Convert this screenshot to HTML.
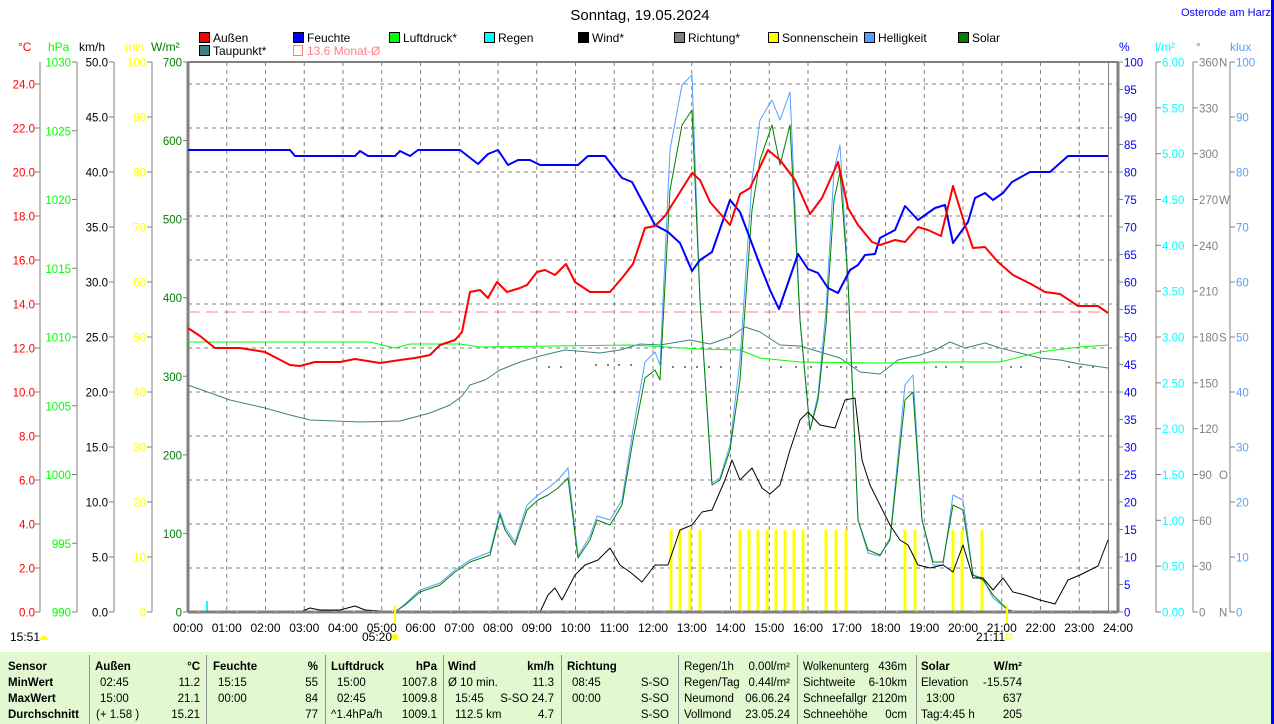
<!DOCTYPE html>
<html><head><meta charset="utf-8">
<style>
html,body{margin:0;padding:0;background:#fff;width:1274px;height:724px;overflow:hidden}
svg{display:block;font-family:"Liberation Sans",sans-serif}
</style></head><body>
<svg id="s" width="1274" height="724" viewBox="0 0 1274 724" xmlns="http://www.w3.org/2000/svg">
<rect x="0" y="0" width="1274" height="724" fill="#fff"/>
<rect x="1271" y="0" width="3" height="724" fill="#0000ff"/>
<text x="640" y="20" font-size="15" text-anchor="middle" fill="#000">Sonntag, 19.05.2024</text>
<text x="1181" y="16" font-size="11" fill="#0000ff">Osterode am Harz</text>
<g id="g"></g>
<rect x="0" y="652" width="1271" height="72" fill="#e2f8d0"/>
<g stroke="#909090" stroke-width="1">
<line x1="89.5" y1="655" x2="89.5" y2="724"/><line x1="206.5" y1="655" x2="206.5" y2="724"/>
<line x1="325.5" y1="655" x2="325.5" y2="724"/><line x1="443.5" y1="655" x2="443.5" y2="724"/>
<line x1="561.5" y1="655" x2="561.5" y2="724"/><line x1="678.5" y1="655" x2="678.5" y2="724"/>
<line x1="797.5" y1="655" x2="797.5" y2="724"/><line x1="916.5" y1="655" x2="916.5" y2="724"/>
</g>
<g font-size="11.5" fill="#000">
<g font-weight="bold"><text x="8" y="670">Sensor</text><text x="8" y="686">MinWert</text><text x="8" y="702">MaxWert</text><text x="8" y="718">Durchschnitt</text>
<text x="95" y="670">Außen</text><text x="200" y="670" text-anchor="end">°C</text>
<text x="213" y="670">Feuchte</text><text x="318" y="670" text-anchor="end">%</text>
<text x="331" y="670">Luftdruck</text><text x="437" y="670" text-anchor="end">hPa</text>
<text x="448" y="670">Wind</text><text x="554" y="670" text-anchor="end">km/h</text>
<text x="567" y="670">Richtung</text>
<text x="921" y="670">Solar</text><text x="1022" y="670" text-anchor="end">W/m²</text></g>
<text x="100" y="686">02:45</text><text x="200" y="686" text-anchor="end">11.2</text>
<text x="100" y="702">15:00</text><text x="200" y="702" text-anchor="end">21.1</text>
<text x="96" y="718">(+ 1.58 )</text><text x="200" y="718" text-anchor="end">15.21</text>
<text x="218" y="686">15:15</text><text x="318" y="686" text-anchor="end">55</text>
<text x="218" y="702">00:00</text><text x="318" y="702" text-anchor="end">84</text>
<text x="318" y="718" text-anchor="end">77</text>
<text x="337" y="686">15:00</text><text x="437" y="686" text-anchor="end">1007.8</text>
<text x="337" y="702">02:45</text><text x="437" y="702" text-anchor="end">1009.8</text>
<text x="331" y="718">^1.4hPa/h</text><text x="437" y="718" text-anchor="end">1009.1</text>
<text x="448" y="686">Ø 10 min.</text><text x="554" y="686" text-anchor="end">11.3</text>
<text x="455" y="702">15:45</text><text x="554" y="702" text-anchor="end">S-SO 24.7</text>
<text x="455" y="718">112.5 km</text><text x="554" y="718" text-anchor="end">4.7</text>
<text x="572" y="686">08:45</text><text x="572" y="702">00:00</text>
<text x="669" y="686" text-anchor="end">S-SO</text><text x="669" y="702" text-anchor="end">S-SO</text><text x="669" y="718" text-anchor="end">S-SO</text>
<text x="684" y="670">Regen/1h</text><text x="790" y="670" text-anchor="end">0.00l/m²</text>
<text x="684" y="686">Regen/Tag</text><text x="790" y="686" text-anchor="end">0.44l/m²</text>
<text x="684" y="702">Neumond</text><text x="790" y="702" text-anchor="end">06.06.24</text>
<text x="684" y="718">Vollmond</text><text x="790" y="718" text-anchor="end">23.05.24</text>
<text x="803" y="670" textLength="66" lengthAdjust="spacingAndGlyphs">Wolkenunterg</text><text x="907" y="670" text-anchor="end">436m</text>
<text x="803" y="686">Sichtweite</text><text x="907" y="686" text-anchor="end">6-10km</text>
<text x="803" y="702" textLength="64" lengthAdjust="spacingAndGlyphs">Schneefallgr</text><text x="907" y="702" text-anchor="end">2120m</text>
<text x="803" y="718">Schneehöhe</text><text x="907" y="718" text-anchor="end">0cm</text>
<text x="921" y="686">Elevation</text><text x="1022" y="686" text-anchor="end">-15.574</text>
<text x="926" y="702">13:00</text><text x="1022" y="702" text-anchor="end">637</text>
<text x="921" y="718">Tag:4:45 h</text><text x="1022" y="718" text-anchor="end">205</text>
</g>
</svg>
<script>
var NS="http://www.w3.org/2000/svg",g=document.getElementById("g");
function el(t,a,txt){var e=document.createElementNS(NS,t);for(var k in a)e.setAttribute(k,a[k]);if(txt!=null)e.textContent=txt;g.appendChild(e);return e;}
function txt(x,y,s,c,anc,fs){return el("text",{x:x,y:y,fill:c,"font-size":fs||12,"text-anchor":anc||"start"},s);}
var L=188,R=1118,T=62,B=612,HW=(R-L)/24,TF=11.5;
for(var h=1;h<24;h++){var x=L+h*HW;el("line",{x1:x,y1:T,x2:x,y2:B,stroke:"#808080","stroke-dasharray":"4,4"});}
for(var k=1;k<=12;k++){var y=B-k*44;el("line",{x1:L,y1:y,x2:R,y2:y,stroke:"#808080","stroke-dasharray":"4,4"});}
var leg=[[199,38,"#ff0000","Außen"],[293,38,"#0000ff","Feuchte"],[389,38,"#00ff00","Luftdruck*"],[484,38,"#00ffff","Regen"],[578,38,"#000000","Wind*"],[674,38,"#808080","Richtung*"],[768,38,"#ffff00","Sonnenschein"],[864,38,"#55a0ff","Helligkeit"],[958,38,"#008000","Solar"],[199,51,"#408080","Taupunkt*"]];
leg.forEach(function(l){el("rect",{x:l[0]+.5,y:l[1]-5.5,width:10,height:10,fill:l[2],stroke:"#000"});txt(l[0]+14,l[1]+4,l[3],"#000","start",12);});
el("rect",{x:293.5,y:45.5,width:9,height:10,fill:"none",stroke:"#ff8080"});txt(307,55,"13.6 Monat-Ø","#ff8080","start",12);
[[18,"°C","#ff0000"],[48,"hPa","#00ff00"],[79,"km/h","#000"],[125,"min","#ffff00"],[151,"W/m²","#008000"],[1119,"%","#0000ff"],[1155,"l/m²","#00ffff"],[1196,"°","#808080"],[1230,"klux","#55a0ff"]].forEach(function(u){txt(u[0],51,u[1],u[2]);});
function axis(lx,col,n,fmt,lab,right){
 el("line",{x1:lx,y1:T,x2:lx,y2:B,stroke:"#808080"});
 for(var i=0;i<=n;i++){var y=B-i*(B-T)/n;var s=fmt(i);if(s==null)continue;
  if(!right){el("line",{x1:lx-5,y1:y,x2:lx,y2:y,stroke:"#808080"});txt(lx-6,y+4.5,s,col,"end",TF);}
  else{el("line",{x1:lx,y1:y,x2:lx+5,y2:y,stroke:"#808080"});txt(lx+6,y+4.5,s,col,"start",TF);}}
}
el("line",{x1:40,y1:T,x2:40,y2:B,stroke:"#808080"});
for(var i=0;i<=12;i++){var y=B-i*44;el("line",{x1:35,y1:y,x2:40,y2:y,stroke:"#808080"});txt(35,y+4.5,(i*2).toFixed(1),"#ff0000","end",TF);}
axis(77,"#00ff00",8,function(i){return ""+(990+i*5);});
axis(114,"#000",10,function(i){return (i*5).toFixed(1);});
axis(152,"#ffff00",10,function(i){return ""+(i*10);});
axis(188,"#008000",7,function(i){return ""+(i*100);});
axis(1118,"#0000ff",20,function(i){return ""+(i*5);},0,true);
axis(1156,"#00ffff",12,function(i){return (i*0.5).toFixed(2);},0,true);
var dirs={0:"N",3:"O",6:"S",9:"W",12:"N"};
axis(1193,"#808080",12,function(i){return ""+(i*30);},0,true);
for(var d in dirs){txt(1219,B-d*(B-T)/12+4.5,dirs[d],"#808080","start",TF);}
axis(1230,"#55a0ff",10,function(i){return ""+(i*10);},0,true);
el("line",{x1:L,y1:T,x2:R,y2:T,stroke:"#808080","stroke-width":2});
el("line",{x1:L,y1:T,x2:L,y2:B,stroke:"#808080","stroke-width":3});
el("line",{x1:R,y1:T,x2:R,y2:B,stroke:"#808080","stroke-width":3});
el("line",{x1:1108.5,y1:T,x2:1108.5,y2:B,stroke:"#808080"});
for(var h=0;h<=24;h++){var x=L+h*HW;txt(x,632,(h<10?"0":"")+h+":00","#000","middle",12);}
function pl(pts,col,w){el("polyline",{points:pts,fill:"none",stroke:col,"stroke-width":w||1,"stroke-linejoin":"round"});}
el("line",{x1:L,y1:312,x2:1108,y2:312,stroke:"#ff8080","stroke-dasharray":"12,6"});
[671,680,690,700,740,749,758,767,776,785,794,803,826,836,846,905,915,953,962,982].forEach(function(x){el("rect",{x:x-1.5,y:530,width:3,height:82,fill:"#ffff00"});});
el("rect",{x:206,y:601,width:2,height:11,fill:"#00ffff"});
[548,560,672,684,696,708,720,780,795,810,826,840,855,935,945,960,1010,1020,1068,1080,1092].forEach(function(x){el("rect",{x:x,y:366,width:2,height:2,fill:"#808080"});});
[595,607,618,630].forEach(function(x){el("rect",{x:x,y:364,width:2,height:2,fill:"#808080"});});
pl("188,385 230,400 265,408 290,415 310,420 360,422 400,421 430,413 450,405 462,396 470,385 485,380 500,370 520,362 540,356 565,350 600,353 620,350 640,344 660,345 690,340 710,344 730,337 745,327 760,332 780,345 800,346 820,352 840,358 860,372 880,374 898,360 920,355 935,350 950,342 965,348 985,343 1000,348 1020,353 1040,358 1060,360 1080,364 1108,368","#408080",1);
pl("188,342 370,342 395,348 410,344 460,344 480,347 630,345 700,349 740,350 760,358 800,362 880,363 935,362 1000,362 1040,352 1080,347 1108,345","#00ff00",1);
var sol="188,612 395,612 405,605 420,592 440,585 455,572 470,562 490,555 500,515 505,530 515,545 527,510 538,500 548,495 558,488 568,478 578,558 590,540 597,520 610,525 622,505 633,440 645,378 655,370 660,380 670,190 682,125 692,110 700,300 712,485 720,480 730,450 740,380 752,210 760,160 772,125 780,165 790,125 800,320 810,430 818,400 826,325 834,200 840,172 848,280 858,520 868,550 880,555 890,540 905,400 913,392 922,520 933,562 943,562 953,505 963,510 973,575 983,580 993,595 1008,610 1018,612";
var hel="188,612 395,612 405,604 420,590 440,583 455,570 470,560 490,552 500,512 505,527 515,542 527,505 538,495 548,488 558,480 568,468 578,556 590,536 597,516 610,520 622,500 633,430 645,362 655,352 660,365 670,150 682,85 692,75 700,300 712,483 720,478 730,445 740,360 752,180 760,120 772,100 780,120 790,92 800,320 810,430 818,395 826,310 834,170 840,145 848,280 858,520 868,553 880,556 890,538 905,385 913,375 922,520 933,565 943,565 953,495 963,500 973,575 983,578 993,598 1008,610 1018,612";
pl(hel,"#55a0ff",1);pl(sol,"#008000",1);
pl("188,612 300,612 310,608 320,610 340,610 355,606 365,610 400,612 540,612 548,595 555,588 562,600 575,575 585,565 598,560 610,548 620,565 630,572 642,582 655,565 668,565 680,530 692,525 702,512 712,510 725,480 732,460 740,480 752,468 762,488 770,494 780,485 790,450 800,420 808,412 820,425 835,428 845,400 855,398 862,460 870,485 880,505 890,525 900,540 908,545 918,565 930,568 943,565 953,572 963,545 973,578 983,578 993,590 1003,578 1013,592 1025,595 1040,600 1055,604 1068,580 1080,575 1098,566 1108,540","#000",1);
pl("188,150 290,150 295,156 355,156 360,151 368,156 395,156 400,151 410,156 418,150 460,150 478,164 488,154 498,150 508,165 518,160 530,160 540,165 578,165 588,156 605,156 622,178 632,182 655,225 668,232 680,243 692,271 700,260 712,252 730,200 740,212 760,265 770,290 779,309 788,283 798,254 808,269 818,273 828,288 838,293 850,270 858,265 865,255 875,254 880,238 895,230 905,206 918,220 935,208 945,205 953,243 968,222 975,198 985,193 993,200 1003,193 1012,182 1030,172 1050,172 1068,156 1078,156 1108,156","#0000ff",2);
pl("188,328 200,336 215,348 240,348 265,352 290,365 300,366 315,362 340,362 355,359 380,363 400,360 415,358 430,355 440,345 455,340 462,332 470,292 480,290 488,298 497,282 507,292 520,288 527,285 537,272 545,270 555,275 566,264 575,282 590,292 610,292 622,278 633,264 645,228 655,226 665,216 692,173 700,180 710,202 730,225 740,194 750,188 768,150 780,160 795,180 810,214 822,198 838,162 848,208 858,225 872,242 880,245 895,240 905,242 918,227 928,230 941,236 953,186 965,225 973,248 985,247 998,262 1013,275 1031,284 1045,292 1060,294 1078,306 1098,306 1108,313","#ff0000",2);
el("line",{x1:L,y1:B,x2:R,y2:B,stroke:"#808080","stroke-width":3});
for(var x=L+10;x<R;x+=19.4)el("rect",{x:x,y:611,width:1,height:1,fill:"#ffff00"});
el("rect",{x:394,y:605,width:2,height:18,fill:"#ffff00"});
el("rect",{x:1006,y:605,width:2,height:18,fill:"#ffff00"});
txt(362,641,"05:20","#000","start",12);el("circle",{cx:395,cy:637,r:3.5,fill:"#ffff00"});
txt(976,641,"21:11","#000","start",12);el("rect",{x:1006,y:634,width:5,height:5,fill:"none",stroke:"#ffff00"});
txt(10,641,"15:51","#000","start",12);el("path",{d:"M40,640 a4,4 0 0 1 8,0 z",fill:"#ffff00"});
</script>
</body></html>
